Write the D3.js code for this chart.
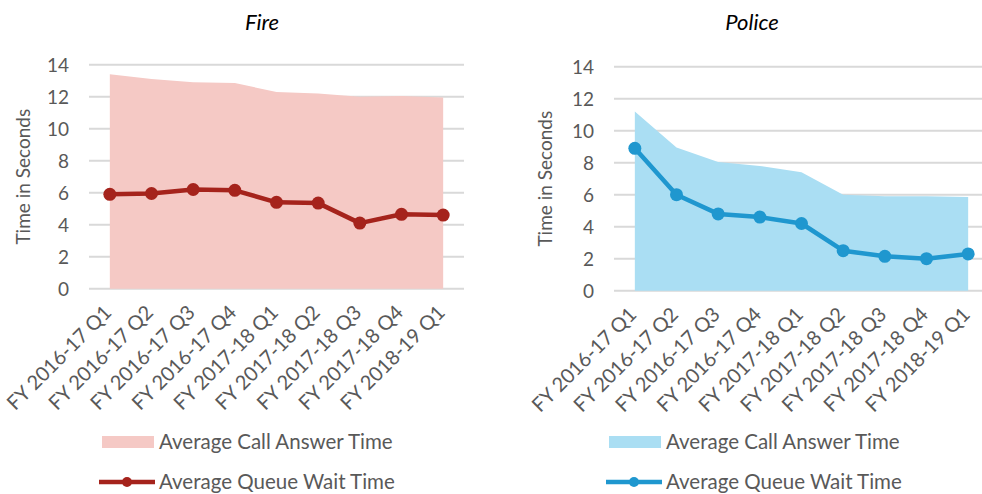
<!DOCTYPE html>
<html>
<head>
<meta charset="utf-8">
<script src="https://cdn.jsdelivr.net/npm/d3@7"></script>
<style>
  body { margin: 0; background: #fff; }
  svg { display: block; font-family: Lato, "Open Sans", sans-serif; }
  .grid line { stroke: #d9d9d9; stroke-width: 2; }
  .tick-label { fill: #595959; font-size: 19px; }
  .xtick { font-size: 20px; }
  .title { fill: #000; font-size: 22px; font-style: italic; }
  .legend-text { fill: #595959; font-size: 20.5px; }
</style>
</head>
<body>
<svg id="chart" width="982" height="494"></svg>
<script>
var quarters = ["FY 2016-17 Q1", "FY 2016-17 Q2", "FY 2016-17 Q3", "FY 2016-17 Q4",
    "FY 2017-18 Q1", "FY 2017-18 Q2", "FY 2017-18 Q3", "FY 2017-18 Q4", "FY 2018-19 Q1"];
var yTicks = [0, 2, 4, 6, 8, 10, 12, 14];

var fireAnswer = [13.4, 13.1, 12.9, 12.85, 12.3, 12.2, 12.0, 12.05, 11.95];
var fireQueue = [5.9, 5.95, 6.2, 6.15, 5.4, 5.35, 4.1, 4.65, 4.6];

var policeAnswer = [11.2, 8.95, 8.05, 7.8, 7.4, 6.0, 5.9, 5.9, 5.85];
var policeQueue = [8.9, 6.0, 4.8, 4.6, 4.2, 2.5, 2.15, 2.0, 2.3];

var svg = d3.select("#chart");

function drawPanel(opt) {
    var g = svg.append("g");

    var x = d3.scaleBand().domain(quarters).range([opt.left, opt.right]);
    var y = d3.scaleLinear().domain([0, 14]).range([opt.bottom, opt.top]);
    var cx = function (d, i) { return x(quarters[i]) + x.bandwidth() / 2; };

    // gridlines
    g.append("g")
        .attr("class", "grid")
        .selectAll("line")
        .data(yTicks)
        .join("line")
        .attr("x1", opt.left)
        .attr("x2", opt.right)
        .attr("y1", function (d) { return y(d); })
        .attr("y2", function (d) { return y(d); });

    // area
    var area = d3.area()
        .x(cx)
        .y0(y(0))
        .y1(function (d) { return y(d); });
    g.append("path")
        .datum(opt.answer)
        .attr("fill", opt.areaColor)
        .attr("d", area);

    // line + markers
    var line = d3.line().x(cx).y(function (d) { return y(d); });
    g.append("path")
        .datum(opt.queue)
        .attr("fill", "none")
        .attr("stroke", opt.lineColor)
        .attr("stroke-width", 4.5)
        .attr("stroke-linejoin", "round")
        .attr("d", line);
    g.selectAll("circle.pt")
        .data(opt.queue)
        .join("circle")
        .attr("class", "pt")
        .attr("cx", cx)
        .attr("cy", function (d) { return y(d); })
        .attr("r", 6.5)
        .attr("fill", opt.lineColor);

    // y tick labels
    g.selectAll("text.ytick")
        .data(yTicks)
        .join("text")
        .attr("class", "tick-label ytick")
        .attr("x", opt.left - 20)
        .attr("y", function (d) { return y(d) + 7; })
        .attr("text-anchor", "end")
        .text(function (d) { return d; });

    // x tick labels
    g.selectAll("text.xtick")
        .data(quarters)
        .join("text")
        .attr("class", "tick-label xtick")
        .attr("text-anchor", "end")
        .attr("transform", function (d) {
            return "translate(" + (x(d) + x.bandwidth() / 2 + 3) + "," + (opt.bottom + 25) + ") rotate(-45)";
        })
        .text(function (d) { return d; });

    // y axis title
    g.append("text")
        .attr("class", "tick-label")
        .attr("text-anchor", "middle")
        .attr("transform", "translate(" + opt.yTitleX + "," + (opt.top + opt.bottom) / 2 + ") rotate(-90)")
        .text("Time in Seconds");

    // chart title
    g.append("text")
        .attr("class", "title")
        .attr("x", opt.titleX)
        .attr("y", 30)
        .attr("text-anchor", "middle")
        .text(opt.title);

    // legend
    var lx = opt.legendX;
    g.append("rect")
        .attr("x", lx)
        .attr("y", 436)
        .attr("width", 52)
        .attr("height", 12)
        .attr("fill", opt.areaColor);
    g.append("text")
        .attr("class", "legend-text")
        .attr("x", lx + 57)
        .attr("y", 449)
        .text("Average Call Answer Time");
    g.append("line")
        .attr("x1", lx - 3)
        .attr("x2", lx + 53)
        .attr("y1", 482)
        .attr("y2", 482)
        .attr("stroke", opt.lineColor)
        .attr("stroke-width", 4.5);
    g.append("circle")
        .attr("cx", lx + 25)
        .attr("cy", 482)
        .attr("r", 5)
        .attr("fill", opt.lineColor);
    g.append("text")
        .attr("class", "legend-text")
        .attr("x", lx + 57)
        .attr("y", 489)
        .text("Average Queue Wait Time");
}

drawPanel({
    title: "Fire", titleX: 262,
    left: 89, right: 464, top: 64.7, bottom: 288.7,
    yTitleX: 30, legendX: 102,
    answer: fireAnswer, queue: fireQueue,
    areaColor: "#f5c9c5", lineColor: "#a5231c"
});

drawPanel({
    title: "Police", titleX: 752,
    left: 614, right: 989, top: 66.7, bottom: 290.7,
    yTitleX: 552, legendX: 609,
    answer: policeAnswer, queue: policeQueue,
    areaColor: "#aadef3", lineColor: "#1f97cf"
});
</script>
</body>
</html>
